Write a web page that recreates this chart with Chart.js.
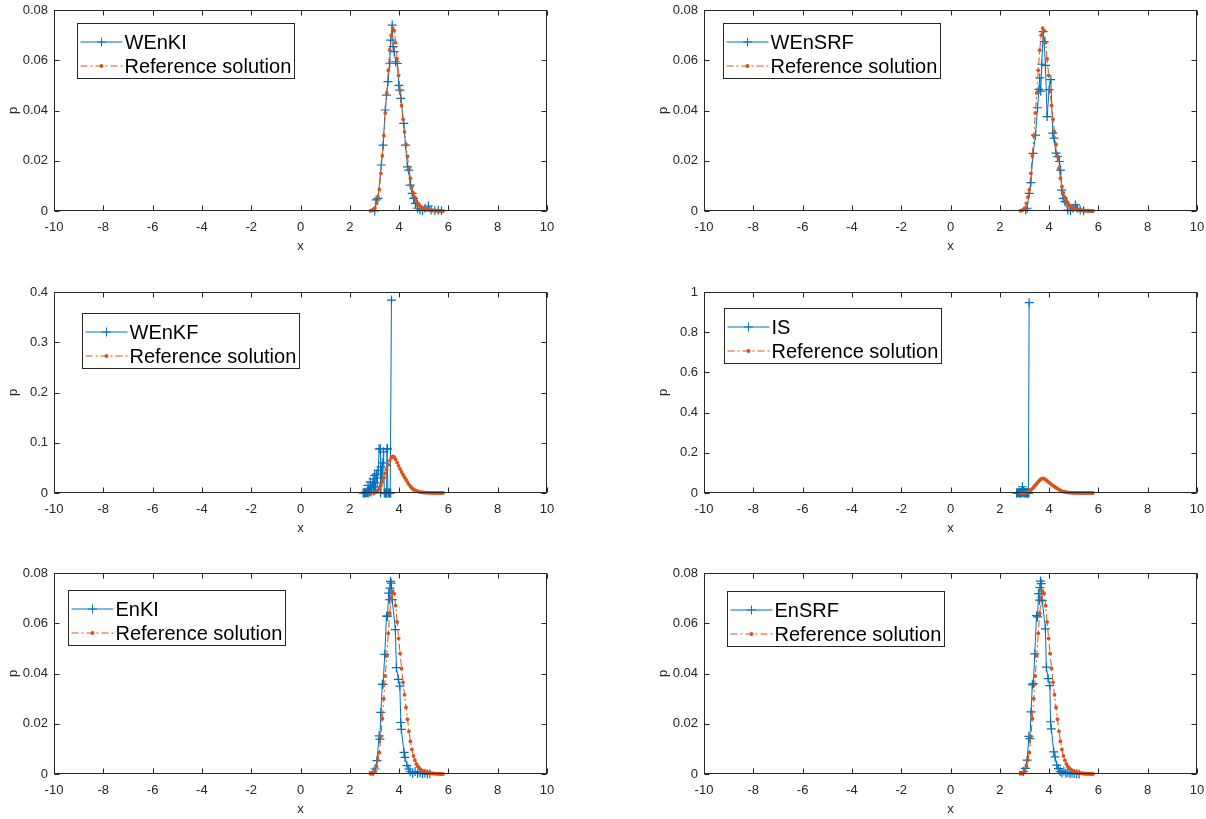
<!DOCTYPE html>
<html><head><meta charset="utf-8">
<script src="https://cdn.jsdelivr.net/npm/chart.js@4.4.1/dist/chart.umd.min.js"></script>
<style>
html,body{margin:0;padding:0;background:#fff;overflow:hidden;width:1206px;height:819px;}
canvas{position:absolute;}
</style></head><body>
<canvas id="c1" style="left:0px;top:0px"></canvas>
<canvas id="c2" style="left:650px;top:0px"></canvas>
<canvas id="c3" style="left:0px;top:282px"></canvas>
<canvas id="c4" style="left:650px;top:282px"></canvas>
<canvas id="c5" style="left:0px;top:563px"></canvas>
<canvas id="c6" style="left:650px;top:563px"></canvas>
<script>
// ---- data ----
const xTicks = [-10,-8,-6,-4,-2,0,2,4,6,8,10];
const seriesNames = ['WEnKI','WEnSRF','WEnKF','IS','EnKI','EnSRF'];
const refLabel = 'Reference solution';

const refX = [2.84,2.90,2.96,3.02,3.08,3.14,3.20,3.26,3.32,3.38,3.44,3.50,3.56,3.62,3.68,3.74,3.80,3.86,3.92,3.98,4.04,4.10,4.16,4.22,4.28,4.34,4.40,4.46,4.52,4.58,4.64,4.70,4.76,4.82,4.88,4.94,5.00,5.06,5.12,5.18,5.24,5.30,5.36,5.42,5.48,5.54,5.60,5.66,5.72,5.78];
const refP = [0.0001,0.0002,0.0006,0.0012,0.0030,0.0055,0.0085,0.0150,0.0220,0.0300,0.0390,0.0470,0.0560,0.0640,0.0700,0.0728,0.0718,0.0670,0.0605,0.0540,0.0480,0.0420,0.0365,0.0315,0.0265,0.0218,0.0170,0.0130,0.0098,0.0072,0.0055,0.0040,0.0030,0.0023,0.0017,0.0013,0.0010,0.0008,0.0006,0.0005,0.0004,0.0003,0.0002,0.0002,0.0001,0.0001,0.0001,0.0000,0.0000,0.0000];

const wenkiX = [3.01,3.07,3.14,3.28,3.35,3.44,3.49,3.55,3.62,3.66,3.72,3.76,3.80,3.86,3.93,3.99,4.03,4.07,4.19,4.26,4.34,4.39,4.45,4.53,4.59,4.66,4.75,4.85,4.95,5.05,5.19,5.30,5.45,5.59,5.72];
const wenkiP = [0.0000,0.0044,0.0050,0.0183,0.0262,0.0402,0.0461,0.0515,0.0588,0.0680,0.0740,0.0654,0.0634,0.0594,0.0587,0.0500,0.0481,0.0448,0.0349,0.0262,0.0176,0.0163,0.0103,0.0070,0.0050,0.0030,0.0011,0.0004,0.0001,0.0011,0.0020,0.0004,0.0001,0.0003,0.0001];

const wensrfX = [3.05,3.11,3.19,3.26,3.35,3.45,3.53,3.59,3.62,3.66,3.70,3.76,3.80,3.85,3.92,4.00,4.07,4.15,4.20,4.28,4.34,4.42,4.47,4.51,4.57,4.64,4.76,4.87,4.97,5.07,5.15,5.26,5.40];
const wensrfP = [0.0004,0.0011,0.0070,0.0113,0.0229,0.0302,0.0411,0.0484,0.0530,0.0477,0.0584,0.0714,0.0674,0.0580,0.0376,0.0483,0.0523,0.0310,0.0290,0.0230,0.0217,0.0197,0.0163,0.0083,0.0050,0.0037,0.0004,0.0001,0.0011,0.0024,0.0011,0.0004,0.0001];

const wenkfX = [2.54,2.57,2.60,2.63,2.66,2.69,2.72,2.74,2.77,2.80,2.83,2.86,2.90,2.95,2.98,3.01,3.04,3.08,3.11,3.15,3.19,3.24,3.25,3.27,3.30,3.34,3.37,3.40,3.43,3.46,3.49,3.51,3.53,3.55,3.58,3.61,3.64,3.66,3.69];
const wenkfP = [0.000,0.000,0.001,0.000,0.002,0.000,0.001,0.015,0.000,0.003,0.022,0.002,0.010,0.028,0.004,0.035,0.012,0.038,0.020,0.045,0.088,0.088,0.000,0.052,0.030,0.060,0.082,0.000,0.000,0.000,0.000,0.088,0.088,0.000,0.000,0.000,0.000,0.000,0.384];

const isX = [2.68,2.71,2.74,2.77,2.80,2.82,2.84,2.86,2.88,2.90,2.92,2.94,2.96,2.98,3.00,3.02,3.04,3.06,3.08,3.10,3.12,3.14,3.16,3.18,3.19];
const isP = [0.000,0.001,0.000,0.002,0.000,0.001,0.000,0.003,0.000,0.006,0.031,0.002,0.008,0.000,0.004,0.001,0.000,0.003,0.000,0.002,0.000,0.001,0.000,0.000,0.947];

const enkiX = [2.95,3.03,3.10,3.19,3.22,3.26,3.32,3.35,3.42,3.49,3.53,3.58,3.62,3.63,3.65,3.68,3.72,3.85,3.89,3.97,4.03,4.07,4.09,4.20,4.24,4.32,4.39,4.45,4.55,4.65,4.75,4.85,4.95,5.05,5.15,5.25];
const enkiP = [0.0009,0.0020,0.0053,0.0152,0.0139,0.0245,0.0357,0.0357,0.0476,0.0628,0.0628,0.0720,0.0694,0.0740,0.0767,0.0760,0.0694,0.0575,0.0423,0.0377,0.0350,0.0205,0.0178,0.0086,0.0066,0.0033,0.0020,0.0009,0.0003,0.0010,0.0002,0.0005,0.0001,0.0003,0.0000,0.0001];

const ensrfX = [2.96,3.04,3.11,3.18,3.22,3.27,3.32,3.36,3.42,3.49,3.53,3.57,3.61,3.63,3.65,3.68,3.72,3.85,3.89,3.96,4.03,4.06,4.09,4.19,4.24,4.31,4.38,4.45,4.52,4.60,4.68,4.76,4.85,4.93,5.02,5.12,5.22];
const ensrfP = [0.0010,0.0022,0.0055,0.0150,0.0141,0.0247,0.0355,0.0360,0.0478,0.0630,0.0625,0.0718,0.0692,0.0742,0.0768,0.0758,0.0690,0.0578,0.0425,0.0380,0.0352,0.0208,0.0180,0.0088,0.0068,0.0035,0.0021,0.0010,0.0004,0.0012,0.0003,0.0006,0.0001,0.0004,0.0002,0.0001,0.0000];

const yMaxes = [0.08,0.08,0.4,1,0.08,0.08];
const ySteps = [0.02,0.02,0.1,0.2,0.02,0.02];

// ---- style ----
const BLUE = '#0072BD', ORANGE = '#D95319', AX = '#262626';
const FONT = "'Liberation Sans', Arial, Helvetica, sans-serif";
const legendPos = [[23,13],[19,13],[28,21],[20,16],[14,17],[23,18]];

function drawCross(ctx, x, y, r){
  ctx.beginPath(); ctx.moveTo(x-r,y); ctx.lineTo(x+r,y); ctx.moveTo(x,y-r); ctx.lineTo(x,y+r); ctx.stroke();
}
function fmt(v){ return String(parseFloat(Number(v).toFixed(6))); }

const framePlugin = {
  id: 'frame',
  afterDraw(chart, args, opts){
    const {ctx, chartArea:a, scales} = chart;
    const xs = scales.x, ys = scales.y;
    ctx.save();
    ctx.strokeStyle = AX; ctx.lineWidth = 1;
    const L = Math.round(a.left)+0.5, R = Math.round(a.right)-0.5, T = Math.round(a.top)+0.5, B = Math.round(a.bottom)-0.5;
    ctx.strokeRect(L, T, R-L, B-T);
    ctx.beginPath();
    xs.ticks.forEach(t => {
      const px = Math.round(xs.getPixelForValue(t.value))+0.5;
      ctx.moveTo(px,B); ctx.lineTo(px,B-5); ctx.moveTo(px,T); ctx.lineTo(px,T+5);
    });
    ys.ticks.forEach(t => {
      const py = Math.round(ys.getPixelForValue(t.value))+0.5;
      ctx.moveTo(L,py); ctx.lineTo(L+5,py); ctx.moveTo(R,py); ctx.lineTo(R-5,py);
    });
    ctx.stroke();
    // legend box
    const lx = Math.round(a.left + opts.ox)+0.5, ly = Math.round(a.top + opts.oy)+0.5, w = 217, h = 55;
    ctx.fillStyle = '#fff'; ctx.fillRect(lx, ly, w, h);
    ctx.strokeRect(lx, ly, w, h);
    const ds = chart.data.datasets;
    ctx.font = '20px ' + FONT; ctx.textBaseline = 'alphabetic'; ctx.textAlign = 'left';
    let ry = ly + 18.5;
    ctx.strokeStyle = BLUE; ctx.lineWidth = 1;
    ctx.beginPath(); ctx.moveTo(lx+3, ry); ctx.lineTo(lx+45, ry); ctx.stroke();
    drawCross(ctx, lx+24, ry, 4.5);
    ctx.fillStyle = '#000'; ctx.fillText(ds[0].label, lx+47, ly+25);
    ry = ly + 42.5;
    ctx.strokeStyle = ORANGE; ctx.setLineDash([7,3,2,3]);
    ctx.beginPath(); ctx.moveTo(lx+3, ry); ctx.lineTo(lx+45, ry); ctx.stroke();
    ctx.setLineDash([]);
    ctx.fillStyle = ORANGE; ctx.beginPath(); ctx.arc(lx+24, ry, 2, 0, Math.PI*2); ctx.fill();
    ctx.fillStyle = '#000'; ctx.fillText(ds[1].label, lx+47, ly+49);
    ctx.restore();
  }
};

function pts(xa, pa){ return xa.map((v,i)=>({x:v, y:pa[i]})); }

const blueX = [wenkiX, wensrfX, wenkfX, isX, enkiX, ensrfX];
const blueP = [wenkiP, wensrfP, wenkfP, isP, enkiP, ensrfP];

for (let k = 0; k < 6; k++) {
  const cv = document.getElementById('c'+(k+1));
  cv.width = 603; cv.height = 281;
  cv.style.width = '603px'; cv.style.height = '281px';
  new Chart(cv, {
    type: 'scatter',
    data: { datasets: [
      { label: seriesNames[k], data: pts(blueX[k], blueP[k]), showLine: true,
        borderColor: BLUE, borderWidth: 1, pointStyle: 'cross', pointRadius: 4.5, pointHoverRadius: 4.5,
        pointBorderColor: BLUE, pointBorderWidth: 1.2, pointBackgroundColor: BLUE, order: 1, clip: false },
      { label: refLabel, data: pts(refX, refP), showLine: true,
        borderColor: ORANGE, borderWidth: 1, borderDash: [7,3,2,3], pointStyle: 'circle', pointRadius: 1.9, pointHoverRadius: 1.9,
        pointBorderWidth: 0, pointBackgroundColor: ORANGE, order: 0, clip: false }
    ]},
    options: {
      responsive: false, animation: false, devicePixelRatio: 1,
      layout: { padding: { left: 0, right: 56, top: 10, bottom: 0 } },
      plugins: { legend: { display: false }, tooltip: { enabled: false }, frame: { ox: legendPos[k][0], oy: legendPos[k][1] } },
      events: [],
      scales: {
        x: { type: 'linear', min: xTicks[0], max: xTicks[xTicks.length-1],
          afterBuildTicks(s){ s.ticks = xTicks.map(v=>({value:v})); },
          ticks: { stepSize: 2, autoSkip: false, maxRotation: 0, padding: 9, color: AX, font: { family: FONT, size: 13 }, callback: fmt },
          grid: { display: false, drawTicks: false }, border: { display: false },
          title: { display: true, text: 'x', color: AX, font: { family: FONT, size: 13 }, padding: { top: 0, bottom: 27 } },
          afterFit(s){ s.height = 70; s.paddingLeft = 0; s.paddingRight = 0; } },
        y: { type: 'linear', min: 0, max: yMaxes[k],
          ticks: { stepSize: ySteps[k], padding: 6, color: AX, font: { family: FONT, size: 13 }, callback: fmt },
          grid: { display: false, drawTicks: false }, border: { display: false },
          title: { display: true, text: 'p', color: AX, font: { family: FONT, size: 13 }, padding: { top: 6, bottom: 0 } },
          afterFit(s){ s.width = 54; s.paddingTop = 0; s.paddingBottom = 0; } }
      }
    },
    plugins: [framePlugin]
  });
}
</script>
</body></html>
